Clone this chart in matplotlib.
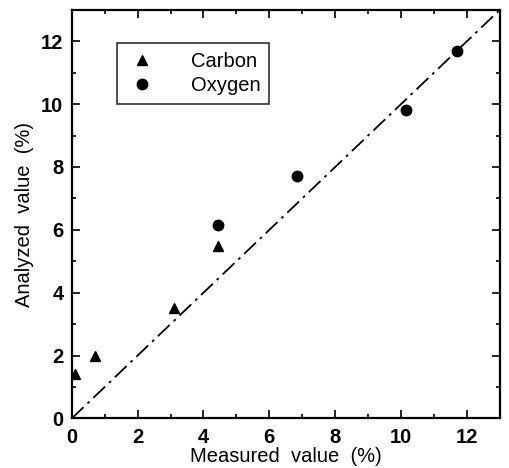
import numpy as np
from matplotlib import pyplot as plt
from matplotlib.ticker import MultipleLocator

# %%
carbon_measured = [0.1, 0.7, 3.1, 4.45]
carbon_analyzed = [1.4, 2.0, 3.5, 5.5]
oxygen_measured = [4.45, 6.85, 10.15, 11.7]
oxygen_analyzed = [6.15, 7.7, 9.8, 11.7]
axis_max = 13
tick_values = [0, 2, 4, 6, 8, 10, 12]

# %%
plt.rcParams["font.family"] = ["Liberation Sans", "DejaVu Sans"]

fig = plt.figure(figsize=(5.09, 4.68), dpi=100)
ax = fig.add_axes([0.141, 0.106, 0.841, 0.873])

ax.plot([0, axis_max], [0, axis_max], color="black", linewidth=1.3,
        dashes=(9, 3, 1.5, 3))
ax.plot(carbon_measured, carbon_analyzed, linestyle="none", marker="^",
        markersize=6.5, color="black", label="Carbon")
ax.plot(oxygen_measured, oxygen_analyzed, linestyle="none", marker="o",
        markersize=7.5, color="black", label="Oxygen")

ax.set_xlim(0, axis_max)
ax.set_ylim(0, axis_max)
ax.set_xticks(tick_values)
ax.set_yticks(tick_values)
ax.xaxis.set_minor_locator(MultipleLocator(1))
ax.yaxis.set_minor_locator(MultipleLocator(1))
ax.tick_params(which="both", direction="in", top=True, right=True, width=1.2)
ax.tick_params(which="major", length=6, labelsize=14.5)
ax.tick_params(axis="x", which="major", pad=7)
ax.tick_params(axis="y", which="major", pad=6)
ax.tick_params(which="minor", length=3)
for lab in ax.get_xticklabels() + ax.get_yticklabels():
    lab.set_fontweight("bold")
for sp in ax.spines.values():
    sp.set_linewidth(1.6)

ax.set_xlabel("Measured  value  (%)", fontsize=14.5, labelpad=0)
ax.set_ylabel("Analyzed  value  (%)", fontsize=14.5, labelpad=5)

leg = ax.legend(loc="upper left", bbox_to_anchor=(0.106, 0.92), fontsize=14.5,
                frameon=True, fancybox=False, edgecolor="black",
                borderaxespad=0, handletextpad=1.6, borderpad=0.45,
                labelspacing=0.25, handlelength=1.6)
leg.get_frame().set_linewidth(1.2)

plt.savefig("out.png", dpi=100)
